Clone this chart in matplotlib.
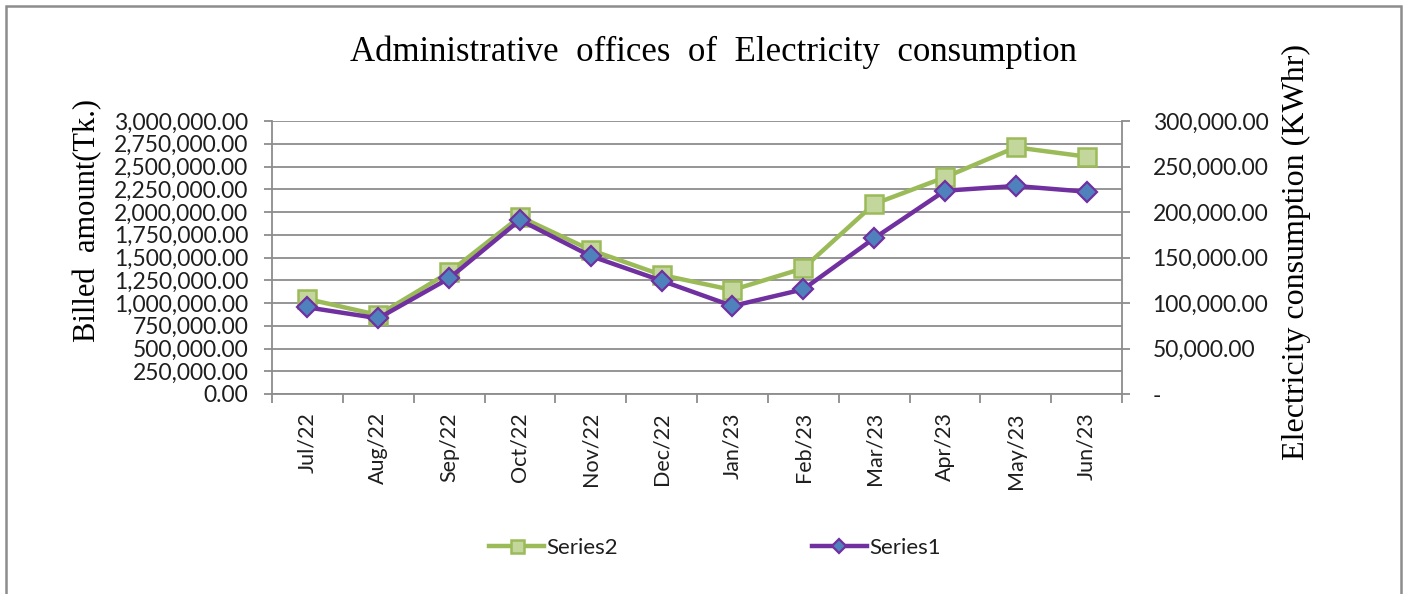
import matplotlib
matplotlib.use("Agg")
import matplotlib.pyplot as plt
from matplotlib.patches import Rectangle
from matplotlib.ticker import FuncFormatter, FixedLocator
import numpy as np

months = ["Jul/22", "Aug/22", "Sep/22", "Oct/22", "Nov/22", "Dec/22",
          "Jan/23", "Feb/23", "Mar/23", "Apr/23", "May/23", "Jun/23"]
# Series2: billed amount (Tk.) on left axis
series2 = [1044000, 868000, 1337000, 1948000, 1582000, 1308000,
           1143000, 1381000, 2088000, 2381000, 2711000, 2608000]
# Series1: electricity consumption (KWhr) on right axis
series1 = [95200, 83200, 127100, 191200, 151600, 124500,
           96700, 115000, 171100, 223400, 228600, 222300]

title = "Administrative  offices  of  Electricity  consumption"
left_label = "Billed  amount(Tk.)"
right_label = "Electricity consumption (KWhr)"

W, H = 1407, 594
fig = plt.figure(figsize=(W / 100, H / 100), dpi=100)
fig.patch.set_facecolor("white")

sans = ["Lato", "DejaVu Sans"]
serif = ["Liberation Serif", "DejaVu Serif"]
grid_c = "#8c8c8c"
txt_c = "#1e1e1e"

# outer border
fig.patches.append(Rectangle((6 / W, -0.2), (1401 - 6) / W, 1.2 - 6 / H,
                             transform=fig.transFigure, fill=False,
                             edgecolor="#8c8c8c", linewidth=1.8))

ax = fig.add_axes([272 / W, 1 - 394 / H, (1122 - 272) / W, (394 - 121) / H])
x = np.arange(len(months))
ax.set_xlim(-0.5, len(months) - 0.5)
ax.set_ylim(0, 3000000)
ax.set_yticks(np.arange(0, 3000001, 250000))
ax.yaxis.set_major_formatter(FuncFormatter(lambda v, p: f"{v:,.2f}"))
ax.grid(axis="y", color=grid_c, linewidth=1.3)
ax.set_axisbelow(True)
ax.spines["top"].set_visible(False)
for s in ["left", "bottom", "right"]:
    ax.spines[s].set_color(grid_c)
    ax.spines[s].set_linewidth(1.3)

ax.xaxis.set_major_locator(FixedLocator(np.arange(-0.5, len(months), 1.0)))
ax.xaxis.set_major_formatter(FuncFormatter(lambda v, p: ""))
ax.xaxis.set_minor_locator(FixedLocator(x))
ax.set_xticklabels(months, minor=True, rotation=90, fontsize=15.5,
                   family=sans, color=txt_c)
ax.tick_params(axis="x", which="major", length=6.5, color=grid_c, width=1.3)
ax.tick_params(axis="x", which="minor", length=0, pad=13)
ax.tick_params(axis="y", length=6, color=grid_c, width=1.3, labelsize=16.5,
               labelcolor=txt_c, pad=11)
for lab in ax.get_yticklabels():
    lab.set_family(sans)

l2, = ax.plot(x, series2, color="#9BBB59", linewidth=3.2, marker="s",
              markersize=13, markerfacecolor="#C3D69B",
              markeredgecolor="#9BBB59", markeredgewidth=1.8, label="Series2",
              zorder=3)

ax2 = ax.twinx()
ax2.set_ylim(0, 300000)
ax2.set_yticks(np.arange(0, 300001, 50000))
ax2.yaxis.set_major_formatter(
    FuncFormatter(lambda v, p: "-" if v == 0 else f"{v:,.2f}"))
ax2.tick_params(axis="y", length=6, color=grid_c, width=1.3, labelsize=16.5,
                labelcolor=txt_c, pad=16)
for lab in ax2.get_yticklabels():
    lab.set_family(sans)
for s in ax2.spines.values():
    s.set_visible(False)

l1, = ax2.plot(x, series1, color="#7030A0", linewidth=3.2, marker="D",
               markersize=10, markerfacecolor="#4F81BD",
               markeredgecolor="#7030A0", markeredgewidth=1.6, label="Series1",
               zorder=4)

fig.text(713 / W, 1 - 52 / H, title, ha="center", va="center",
         fontsize=25, family=serif, color="black")
fig.text(88 / W, 1 - 220 / H, left_label, ha="center", va="center",
         rotation=90, fontsize=22, family=serif, color="black")
fig.text(1296 / W, 1 - 252 / H, right_label, ha="center", va="center",
         rotation=90, fontsize=23, family=serif, color="black")

leg = fig.legend(handles=[l2, l1], labels=["Series2", "Series1"],
                 loc="center", bbox_to_anchor=(715 / W, 1 - 548 / H),
                 ncol=2, frameon=False, handlelength=2.5, columnspacing=8.7,
                 handletextpad=0.1, prop={"family": sans, "size": 16})
for h in leg.legend_handles:
    h.set_markersize(h.get_markersize() * 0.72)
for t in leg.get_texts():
    t.set_color(txt_c)

fig.savefig("out.png", dpi=100, facecolor="white")
